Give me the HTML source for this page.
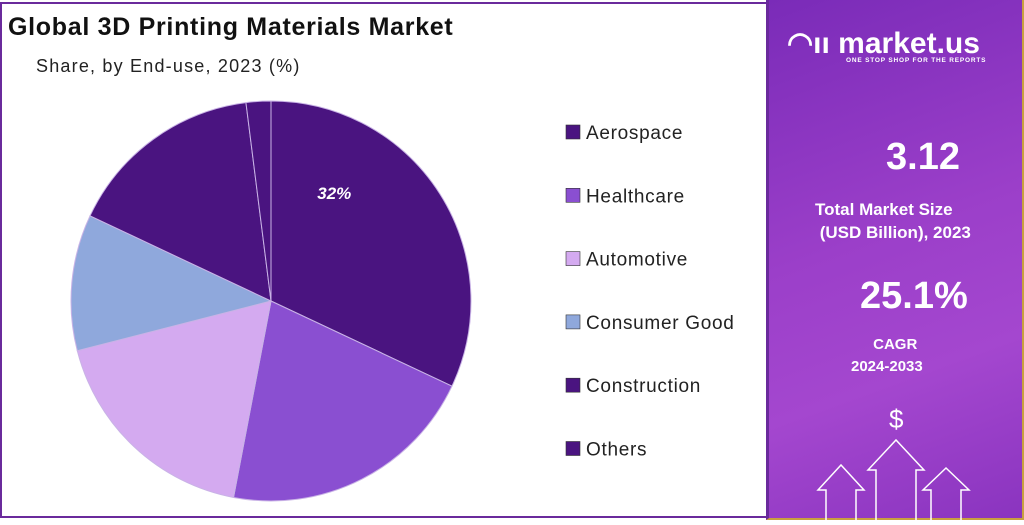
<!DOCTYPE html>
<html><head><meta charset="utf-8"><style>
html,body{margin:0;padding:0;width:1024px;height:520px;overflow:hidden;background:#fff;font-family:"Liberation Sans",sans-serif}
#left{position:absolute;left:0;top:2px;width:766px;height:516px;border:2px solid #6a2a9c;border-right:none;box-sizing:border-box}
#right{position:absolute;left:766px;top:0;width:258px;height:520px;background:linear-gradient(160deg,#7a2bb8 0%,#9b3fc9 45%,#a447cf 70%,#8a34bf 100%);border-left:3px solid #6a2a9c;border-right:2px solid #c8a040;border-bottom:2px solid #c8a040;box-sizing:border-box;color:#fff;text-align:center}
.t{position:absolute;font-weight:bold;white-space:nowrap}
</style></head><body>
<div id="left"></div>
<div class="t" style="left:8px;top:13px;font-size:25px;letter-spacing:0.7px;color:#111">Global 3D Printing Materials Market</div>
<div class="t" style="left:36px;top:56px;font-size:18px;letter-spacing:1.2px;font-weight:normal;color:#222">Share, by End-use, 2023 (%)</div>
<svg id="pie" width="1024" height="520" style="position:absolute;left:0;top:0"></svg>
<div id="right">
 <div class="t" style="left:18px;top:26px;font-size:30px;">◠ıı market.us</div>
 <div class="t" style="left:77px;top:57px;font-size:6.5px;letter-spacing:0.8px">ONE STOP SHOP FOR THE REPORTS</div>
 <div class="t" style="left:117px;top:136px;font-size:38px">3.12</div>
 <div class="t" style="left:46px;top:198px;font-size:17px;line-height:23px;text-align:left">Total Market Size<br>&nbsp;(USD Billion), 2023</div>
 <div class="t" style="left:91px;top:275px;font-size:38px">25.1%</div>
 <div class="t" style="left:82px;top:334px;font-size:15px;line-height:22px">&nbsp;&nbsp;&nbsp;&nbsp;CAGR<br>2024-2033</div>
 <div class="t" style="left:120px;top:404px;font-size:26px;font-weight:normal">$</div>
 <svg width="258" height="90" style="position:absolute;left:-3px;top:435px">
  <g fill="none" stroke="#fff" stroke-width="1.5">
   <path d="M60,85 V55 H52 L75,30 L98,55 H90 V85"/>
   <path d="M110,85 V35 H102 L130,5 L158,35 H150 V85"/>
   <path d="M165,85 V55 H157 L180,33 L203,55 H195 V85"/>
  </g>
 </svg>
</div>
<script>
const categories=["Aerospace","Healthcare","Automotive","Consumer Good","Construction","Others"];
const shares=[32,21,18,11,16,2];
const colors=["#4a1480","#8a4fd1","#d4aaf0","#8fa8dc","#4a1480","#4a1480"];
const labelText=["32%","","","","",""];
const svg=document.getElementById('pie');
const NS="http://www.w3.org/2000/svg";
const cx=271,cy=301,r=200;
const total=shares.reduce((a,b)=>a+b,0);
function pt(a,rr){return [cx+rr*Math.sin(a),cy-rr*Math.cos(a)];}
let a0=0;
shares.forEach((v,i)=>{
 const a1=a0+v/total*2*Math.PI;
 const p0=pt(a0,r),p1=pt(a1,r);
 const large=(a1-a0)>Math.PI?1:0;
 const p=document.createElementNS(NS,'path');
 p.setAttribute('d',`M${cx},${cy} L${p0[0]},${p0[1]} A${r},${r} 0 ${large} 1 ${p1[0]},${p1[1]} Z`);
 p.setAttribute('fill',colors[i]);p.setAttribute('stroke','#c9b3e6');p.setAttribute('stroke-width','1');
 
 
 svg.appendChild(p);
 if(labelText[i]){
  const m=pt((a0+a1)/2-0.45,r*0.6);
  const t=document.createElementNS(NS,'text');
  t.setAttribute('x',m[0]);t.setAttribute('y',m[1]);t.setAttribute('fill','#fff');
  t.setAttribute('font-size','17');t.setAttribute('font-weight','bold');t.setAttribute('font-style','italic');
  t.setAttribute('text-anchor','middle');t.setAttribute('font-family','Liberation Sans, sans-serif');
  t.textContent=labelText[i];
  
  
  svg.appendChild(t);
 }
 a0=a1;
});
categories.forEach((c,i)=>{
 const y=132+i*63.3;
 const r1=document.createElementNS(NS,'rect');
 r1.setAttribute('x',566);r1.setAttribute('y',y-7);r1.setAttribute('width',14);r1.setAttribute('height',14);
 r1.setAttribute('fill',colors[i]);r1.setAttribute('stroke','#333');r1.setAttribute('stroke-width','0.6');
 
 
 svg.appendChild(r1);
 const t=document.createElementNS(NS,'text');
 t.setAttribute('x',586);t.setAttribute('y',y+7);t.setAttribute('font-size','19');t.setAttribute('fill','#222');
 t.setAttribute('letter-spacing','0.7');
 t.setAttribute('font-family','Liberation Sans, sans-serif');
 t.textContent=c;
 
 
 svg.appendChild(t);
});
</script>
</body></html>
